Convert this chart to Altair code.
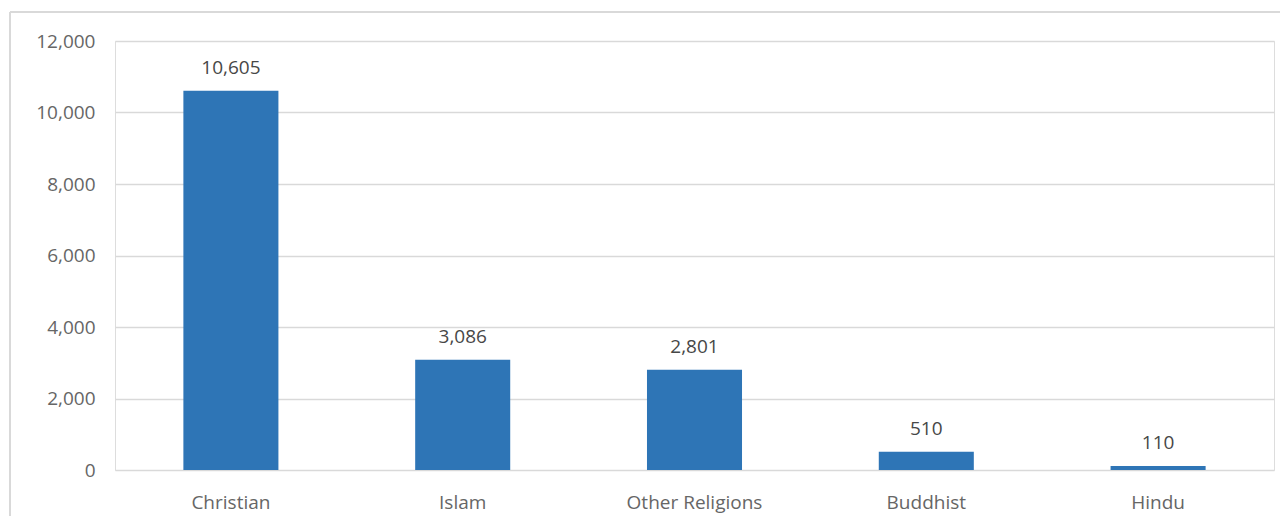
import altair as alt
import pandas as pd

categories = ["Christian", "Islam", "Other Religions", "Buddhist", "Hindu"]
values = [10605, 3086, 2801, 510, 110]
y_ticks = [0, 2000, 4000, 6000, 8000, 10000, 12000]

df = pd.DataFrame({"religion": categories, "count": values})

FONT = "Open Sans"
GRAY = "#666666"

x_enc = alt.X("religion:N", sort=categories, title=None,
              scale=alt.Scale(paddingInner=0.59, paddingOuter=0.295),
              axis=alt.Axis(labelAngle=0, domain=False, ticks=False, labelPadding=23,
                            labelFontSize=19, labelColor=GRAY, labelFont=FONT))
y_enc = alt.Y("count:Q", title=None,
              scale=alt.Scale(domain=[0, 12000]),
              axis=alt.Axis(values=y_ticks, format=",d",
                            domain=False, ticks=False, labelPadding=20,
                            labelFontSize=19, labelColor=GRAY, labelFont=FONT,
                            gridColor="#d9d9d9", gridWidth=1.5))

base = alt.Chart(df)
bars = base.mark_bar(color="#2E75B6").encode(x=x_enc, y=y_enc)
labels = base.mark_text(baseline="alphabetic", dy=-17, fontSize=19, font=FONT, color="#474747").encode(
    x=x_enc, y=y_enc, text=alt.Text("count:Q", format=","))

border_top = alt.Chart(df).mark_rule(color="#d9d9d9", strokeWidth=2).encode(
    x=alt.value(-105), x2=alt.value(1200), y=alt.value(-29))
border_left = alt.Chart(df).mark_rule(color="#d9d9d9", strokeWidth=2).encode(
    x=alt.value(-105), y=alt.value(-29), y2=alt.value(600))

chart = alt.layer(bars, labels, border_top, border_left).properties(
    width=1159, height=429,
    padding={"left": 107, "top": 33, "right": 6, "bottom": 46},
    autosize=alt.AutoSizeParams(type="none"),
).configure_view(stroke=None).configure(background="white")

chart.save("out.html", embed_options={"renderer": "svg", "actions": False})
